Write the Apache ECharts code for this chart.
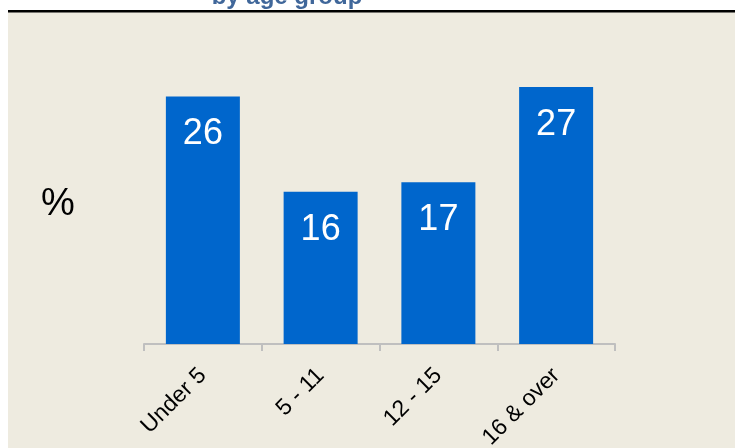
<!DOCTYPE html>
<html>
<head>
<meta charset="utf-8">
<title>by age group</title>
<script src="https://cdn.jsdelivr.net/npm/echarts@6/dist/echarts.min.js"></script>
<style>
    html, body { margin: 0; padding: 0; background: #ffffff; }
    #chart { width: 735px; height: 448px; }
</style>
</head>
<body>
<div id="chart"></div>
<script>
    // data
    var ageGroups = ['Under 5', '5 - 11', '12 - 15', '16 & over'];
    var percents = [26, 16, 17, 27];
    var titleText = 'by age group';
    var unitText = '%';

    var FONT = '"Liberation Sans", Arial, sans-serif';
    var myChart = echarts.init(document.getElementById('chart'));

    var option = {
        backgroundColor: '#ffffff',
        animation: false,
        graphic: [
            // beige panel
            {type: 'rect', z: -10, shape: {x: 8, y: 12, width: 727, height: 436}, style: {fill: '#eeebe0'}},
            // black rule under title
            {type: 'rect', z: -5, shape: {x: 8, y: 10, width: 727, height: 2.5}, style: {fill: '#000000'}},
            {
                type: 'text', x: 287, y: 9,
                style: {text: titleText, font: 'bold 24px ' + FONT, fill: '#40679a', align: 'center', verticalAlign: 'bottom'}
            },
            {
                type: 'text', x: 58, y: 205,
                style: {text: unitText, font: '38px ' + FONT, fill: '#000000', align: 'center', verticalAlign: 'middle'}
            }
        ],
        grid: {
            left: 144,
            right: 120,
            top: 58.4,
            bottom: 104,
            containLabel: false,
            outerBoundsMode: 'none'
        },
        xAxis: {
            type: 'category',
            data: ageGroups,
            axisLine: {lineStyle: {color: '#bfbfbf', width: 2}},
            axisTick: {show: true, length: 7, lineStyle: {color: '#bfbfbf', width: 2}},
            axisLabel: {
                rotate: 45,
                margin: 28,
                color: '#000000',
                fontSize: 23,
                fontFamily: FONT
            }
        },
        yAxis: {
            type: 'value',
            min: 0,
            max: 30,
            show: false,
            splitLine: {show: false}
        },
        series: [
            {
                type: 'bar',
                data: percents,
                barWidth: 74,
                itemStyle: {color: '#0066cc'},
                label: {
                    show: true,
                    position: 'insideTop',
                    distance: 20,
                    color: '#ffffff',
                    fontSize: 36,
                    fontFamily: FONT
                }
            }
        ]
    };
    myChart.setOption(option);
</script>
</body>
</html>
